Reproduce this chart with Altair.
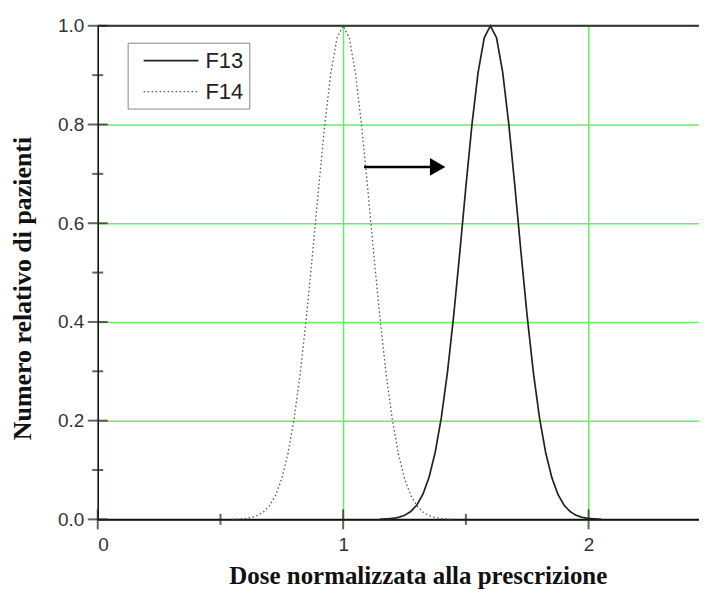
import altair as alt
import pandas as pd

# F14 (dotted), centred near 1.0
f14_x = [0.55, 0.575, 0.6, 0.625, 0.65, 0.675, 0.7, 0.725, 0.75, 0.775, 0.8, 0.825, 0.85, 0.875,
         0.9, 0.925, 0.95, 0.975, 1.0, 1.025, 1.05, 1.075, 1.1, 1.125, 1.15, 1.175, 1.2, 1.225,
         1.25, 1.275, 1.3, 1.325, 1.35, 1.375, 1.4, 1.425, 1.45]
f14_y = [0.0003, 0.0008, 0.0017, 0.0037, 0.0076, 0.0148, 0.0277, 0.0491, 0.0828, 0.1329, 0.2030,
         0.2950, 0.4079, 0.5364, 0.6713, 0.7991, 0.9052, 0.9754, 1.0, 0.9754, 0.9052, 0.7991,
         0.6713, 0.5364, 0.4079, 0.2950, 0.2030, 0.1329, 0.0828, 0.0491, 0.0277, 0.0148, 0.0076,
         0.0037, 0.0017, 0.0008, 0.0003]
# F13 (solid), centred near 1.6
f13_x = [1.15, 1.175, 1.2, 1.225, 1.25, 1.275, 1.3, 1.325, 1.35, 1.375, 1.4, 1.425, 1.45, 1.475,
         1.5, 1.525, 1.55, 1.575, 1.6, 1.625, 1.65, 1.675, 1.7, 1.725, 1.75, 1.775, 1.8, 1.825,
         1.85, 1.875, 1.9, 1.925, 1.95, 1.975, 2.0, 2.025, 2.05]
f13_y = [0.0004, 0.0009, 0.0019, 0.0040, 0.0081, 0.0156, 0.0289, 0.0508, 0.0851, 0.1357, 0.2060,
         0.2980, 0.4110, 0.5390, 0.6735, 0.8005, 0.9060, 0.9758, 1.0, 0.9758, 0.9060, 0.8005,
         0.6735, 0.5390, 0.4110, 0.2980, 0.2060, 0.1357, 0.0851, 0.0508, 0.0289, 0.0156, 0.0081,
         0.0040, 0.0019, 0.0009, 0.0004]

series_names = ["F13", "F14"]
x_labels = [0, 1, 2]
y_labels = [0.0, 0.2, 0.4, 0.6, 0.8, 1.0]
x_major = [0, 1, 2]
x_minor = [0.5, 1.5]
y_major = [0.0, 0.2, 0.4, 0.6, 0.8, 1.0]
y_minor = [0.1, 0.3, 0.5, 0.7, 0.9]
arrow_x = [1.085, 1.36]
arrow_head_x = [1.385]
arrow_y = [0.714]

df = pd.DataFrame(
    {"x": f13_x + f14_x, "y": f13_y + f14_y,
     "s": ["F13"] * len(f13_x) + ["F14"] * len(f14_x)}
)

xs = alt.Scale(domain=[0, 2.45], nice=False, zero=False)
ys = alt.Scale(domain=[0, 1], nice=False)

SANS = "Liberation Sans"
SERIF = "Liberation Serif"
GREEN = "#66ee66"

curves = alt.Chart(df).mark_line(strokeCap="butt").encode(
    x=alt.X("x:Q", scale=xs, axis=alt.Axis(
        values=x_labels, format="d", grid=True, gridColor=GREEN, gridWidth=1.5,
        ticks=False, tickSize=0, labelPadding=16, labelFont=SANS, labelFontSize=19,
        labelColor="#333", domainColor="#111", domainWidth=2,
        title="Dose normalizzata alla prescrizione", titleFont=SERIF, titleFontSize=25,
        titleFontWeight="bold", titleColor="#111", titleX=321, titleY=56,
        titleBaseline="middle", titleAlign="center")),
    y=alt.Y("y:Q", scale=ys, axis=alt.Axis(
        values=y_labels, format=".1f", grid=True, gridColor=GREEN, gridWidth=1.5,
        ticks=False, tickSize=0, labelPadding=14, labelFont=SANS, labelFontSize=19,
        labelColor="#333", domainColor="#111", domainWidth=1.5,
        title="Numero relativo di pazienti", titleFont=SERIF, titleFontSize=26,
        titleFontWeight="bold", titleColor="#111", titleX=-75, titleY=263,
        titleAngle=270, titleBaseline="middle", titleAlign="center")),
    color=alt.Color("s:N", scale=alt.Scale(domain=series_names, range=["#222222", "#555555"]),
                    legend=alt.Legend(title=None, orient="none", legendX=30, legendY=17,
                                      strokeColor="#888", fillColor="white", padding=6,
                                      symbolType="M-0.18,0H4.82", symbolSize=484,
                                      symbolStrokeWidth=1.3, labelFont=SANS,
                                      labelFontSize=22, labelColor="#222", labelOffset=48,
                                      rowPadding=8)),
    strokeDash=alt.StrokeDash("s:N", scale=alt.Scale(domain=series_names,
                                                     range=[[1, 0], [1.5, 2.5]]),
                              legend=alt.Legend(title=None)),
    strokeWidth=alt.StrokeWidth("s:N", scale=alt.Scale(domain=series_names, range=[1.7, 1.3]),
                                legend=None),
)

top_line = alt.Chart(pd.DataFrame({"v": [1.0]})).mark_rule(color="#333", strokeWidth=2).encode(
    y=alt.Y("v:Q", scale=ys)
)

def ticks(vals, size, orient):
    d = pd.DataFrame({"v": vals})
    if orient == "horizontal":
        return alt.Chart(d).mark_tick(orient="horizontal", size=size, thickness=2,
                                      color="#222").encode(
            y=alt.Y("v:Q", scale=ys), x=alt.datum(0))
    return alt.Chart(d).mark_tick(orient="vertical", size=size, thickness=2,
                                  color="#222").encode(
        x=alt.X("v:Q", scale=xs), y=alt.datum(0))

arrow_df = pd.DataFrame({"x": [arrow_x[0]], "x2": [arrow_x[1]], "y": arrow_y})
shaft = alt.Chart(arrow_df).mark_rule(color="black", strokeWidth=2.5).encode(
    x=alt.X("x:Q", scale=xs), x2="x2:Q", y=alt.Y("y:Q", scale=ys))
head = alt.Chart(pd.DataFrame({"x": arrow_head_x, "y": arrow_y})).mark_point(
    shape="triangle-right", size=320, filled=True, color="black", opacity=1).encode(
    x=alt.X("x:Q", scale=xs), y=alt.Y("y:Q", scale=ys))

chart = alt.layer(
    curves, top_line,
    ticks(y_major, 20, "horizontal"), ticks(y_minor, 11, "horizontal"),
    ticks(x_major, 20, "vertical"), ticks(x_minor, 11, "vertical"),
    shaft, head,
).properties(
    width=603, height=495,
    autosize=alt.AutoSizeParams(type="none"),
    padding={"left": 90, "top": 17, "right": 0, "bottom": 70},
).configure_view(stroke=None)

chart.save("out.html", embed_options={"renderer": "svg", "actions": False})
